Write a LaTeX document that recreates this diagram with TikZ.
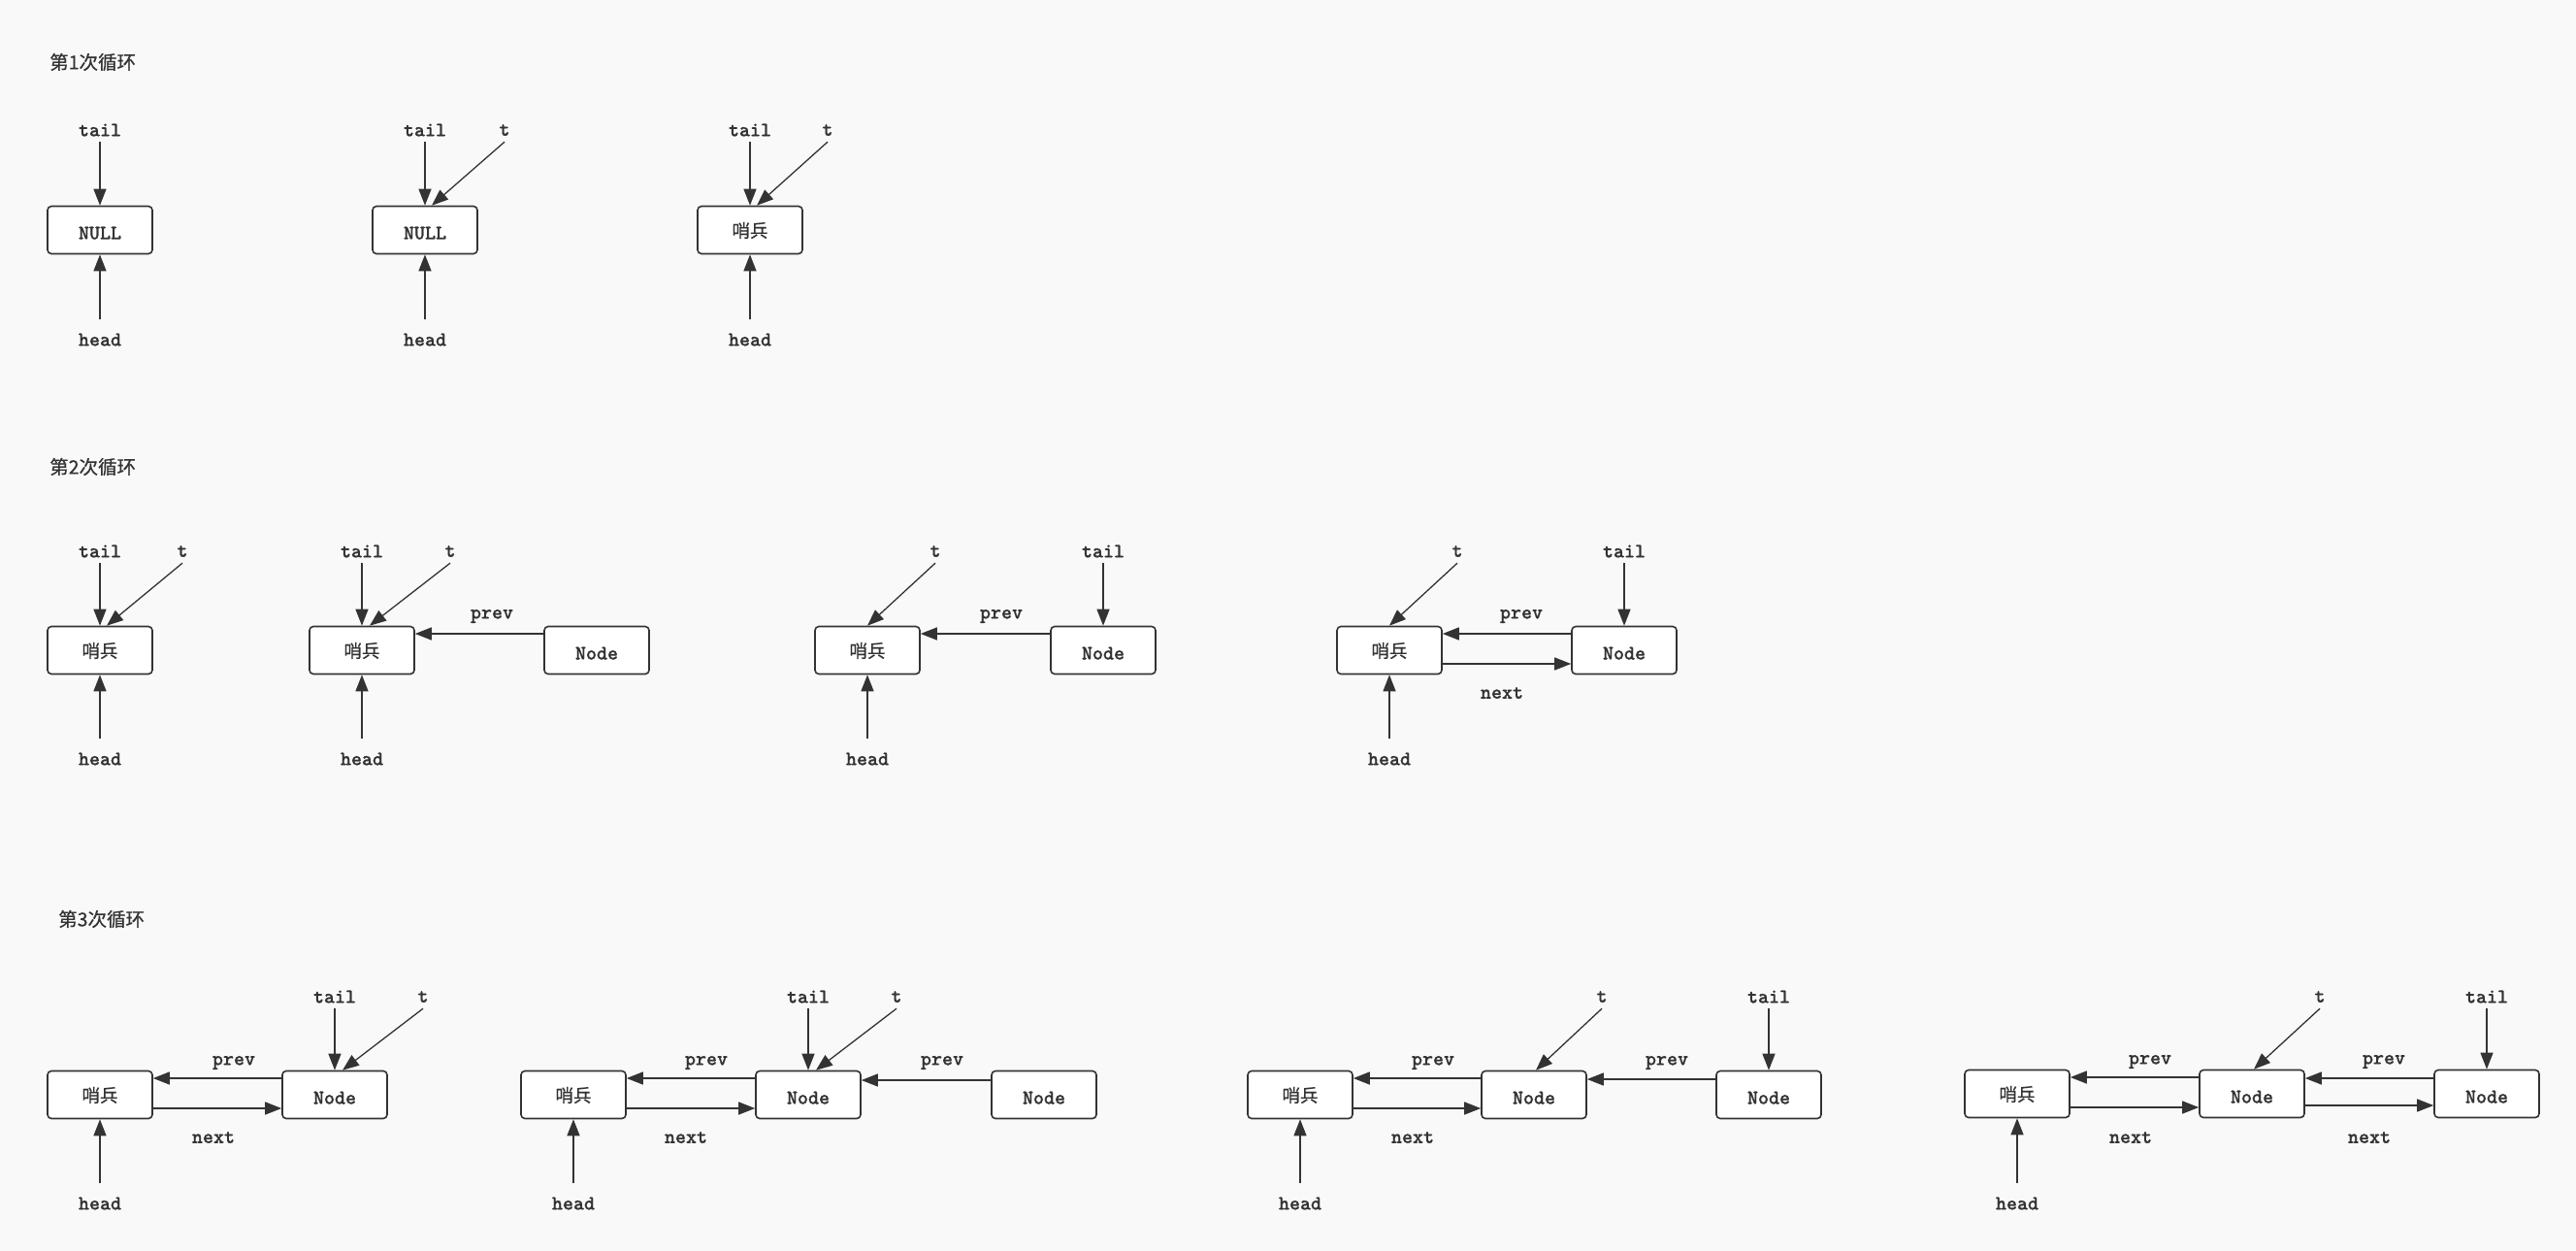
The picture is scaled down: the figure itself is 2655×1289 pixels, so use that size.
\documentclass[tikz,border=0pt]{standalone}
\usepackage{fontspec}
\newfontfamily\cjk{Noto Sans CJK SC}[FakeBold=0.6]
\newfontfamily\mono{lmmonolt10-bold.otf}[FakeBold=0.8]
\usetikzlibrary{arrows.meta}
\definecolor{ink}{HTML}{333333}
\definecolor{paper}{HTML}{F9F9F9}
\begin{document}
\begin{tikzpicture}[x=1pt,y=-1pt,
  cn/.style={font=\cjk\fontsize{18.5}{20}\selectfont},
  tt/.style={font=\mono\fontsize{21}{23}\selectfont},
  box/.style={draw=ink, line width=1.6pt, rounded corners=4pt, fill=white,
    minimum width=108pt, minimum height=49pt, inner sep=0pt, text=ink},
  sent/.style={box, cn, text height=17pt, text depth=2pt},
  nd/.style={box, tt, text height=19pt, text depth=0pt},
  lbl/.style={tt, text=ink, inner sep=0pt, minimum height=24pt},
  title/.style={cn, font=\cjk\fontsize{19.5}{21}\selectfont, text=ink, anchor=west, inner sep=0pt},
  ptr/.style={draw=ink, line width=1.3pt, -{Triangle[length=17pt,width=13pt]}},
  hptr/.style={ptr, shorten <=8.5pt},
]
% page
\path[fill=paper] (0,0) rectangle (2655,1289);

% ---------- titles ----------
\node[title] (title1) at (51,64) {第1次循环};
\node[title] (title2) at (51,481) {第2次循环};
\node[title] (title3) at (60,947) {第3次循环};

% ---------- loop 1 ----------
\node[nd] (a1) at (103,237) {NULL};
\node[lbl] (a1tail) at (103,134) {tail};
\node[lbl] (a1head) at (103,350) {head};
\draw[ptr] (a1tail) -- (a1);
\draw[hptr] (a1head) -- (a1);

\node[nd] (b1) at (438,237) {NULL};
\node[lbl] (b1tail) at (438,134) {tail};
\node[lbl] (b1t) at (520,134) {t};
\node[lbl] (b1head) at (438,350) {head};
\draw[ptr] (b1tail) -- (b1);
\draw[ptr] (b1t.south) -- ([xshift=7pt]b1.north);
\draw[hptr] (b1head) -- (b1);

\node[sent] (c1) at (773,237) {哨兵};
\node[lbl] (c1tail) at (773,134) {tail};
\node[lbl] (c1t) at (853,134) {t};
\node[lbl] (c1head) at (773,350) {head};
\draw[ptr] (c1tail) -- (c1);
\draw[ptr] (c1t.south) -- ([xshift=7pt]c1.north);
\draw[hptr] (c1head) -- (c1);

% ---------- loop 2 ----------
\node[sent] (a2) at (103,670) {哨兵};
\node[lbl] (a2tail) at (103,568) {tail};
\node[lbl] (a2t) at (188,568) {t};
\node[lbl] (a2head) at (103,782) {head};
\draw[ptr] (a2tail) -- (a2);
\draw[ptr] (a2t.south) -- ([xshift=7pt]a2.north);
\draw[hptr] (a2head) -- (a2);

\node[sent] (b2s) at (373,670) {哨兵};
\node[nd] (b2n) at (615,670) {Node};
\node[lbl] (b2tail) at (373,568) {tail};
\node[lbl] (b2t) at (464,568) {t};
\node[lbl] (b2head) at (373,782) {head};
\node[lbl] (b2prev) at (507,635) {prev};
\draw[ptr] (b2tail) -- (b2s);
\draw[ptr] (b2t.south) -- ([xshift=8pt]b2s.north);
\draw[hptr] (b2head) -- (b2s);
\draw[ptr] ([yshift=17pt]b2n.west) -- ([yshift=17pt]b2s.east);

\node[sent] (c2s) at (894,670) {哨兵};
\node[nd] (c2n) at (1137,670) {Node};
\node[lbl] (c2t) at (964,568) {t};
\node[lbl] (c2tail) at (1137,568) {tail};
\node[lbl] (c2head) at (894,782) {head};
\node[lbl] (c2prev) at (1032,635) {prev};
\draw[ptr] (c2t.south) -- (c2s.north);
\draw[ptr] (c2tail) -- (c2n);
\draw[hptr] (c2head) -- (c2s);
\draw[ptr] ([yshift=17pt]c2n.west) -- ([yshift=17pt]c2s.east);

\node[sent] (d2s) at (1432,670) {哨兵};
\node[nd] (d2n) at (1674,670) {Node};
\node[lbl] (d2t) at (1502,568) {t};
\node[lbl] (d2tail) at (1674,568) {tail};
\node[lbl] (d2head) at (1432,782) {head};
\node[lbl] (d2prev) at (1568,635) {prev};
\node[lbl] (d2next) at (1548,714) {next};
\draw[ptr] (d2t.south) -- (d2s.north);
\draw[ptr] (d2tail) -- (d2n);
\draw[hptr] (d2head) -- (d2s);
\draw[ptr] ([yshift=17pt]d2n.west) -- ([yshift=17pt]d2s.east);
\draw[ptr] ([yshift=-14pt]d2s.east) -- ([yshift=-14pt]d2n.west);

% ---------- loop 3 ----------
\node[sent] (a3s) at (103,1128) {哨兵};
\node[nd] (a3n) at (345,1128) {Node};
\node[lbl] (a3tail) at (345,1027) {tail};
\node[lbl] (a3t) at (436,1027) {t};
\node[lbl] (a3head) at (103,1240) {head};
\node[lbl] (a3prev) at (241,1095) {prev};
\node[lbl] (a3next) at (220,1172) {next};
\draw[ptr] (a3tail) -- (a3n);
\draw[ptr] (a3t.south) -- ([xshift=8pt]a3n.north);
\draw[hptr] (a3head) -- (a3s);
\draw[ptr] ([yshift=17pt]a3n.west) -- ([yshift=17pt]a3s.east);
\draw[ptr] ([yshift=-14pt]a3s.east) -- ([yshift=-14pt]a3n.west);

\node[sent] (b3s) at (591,1128) {哨兵};
\node[nd] (b3n) at (833,1128) {Node};
\node[nd] (b3m) at (1076,1128) {Node};
\node[lbl] (b3tail) at (833,1027) {tail};
\node[lbl] (b3t) at (924,1027) {t};
\node[lbl] (b3head) at (591,1240) {head};
\node[lbl] (b3prev) at (728,1095) {prev};
\node[lbl] (b3prevb) at (971,1095) {prev};
\node[lbl] (b3next) at (707,1172) {next};
\draw[ptr] (b3tail) -- (b3n);
\draw[ptr] (b3t.south) -- ([xshift=8pt]b3n.north);
\draw[hptr] (b3head) -- (b3s);
\draw[ptr] ([yshift=17pt]b3n.west) -- ([yshift=17pt]b3s.east);
\draw[ptr] ([yshift=-14pt]b3s.east) -- ([yshift=-14pt]b3n.west);
\draw[ptr] ([yshift=15pt]b3m.west) -- ([yshift=15pt]b3n.east);

\node[sent] (c3s) at (1340,1128) {哨兵};
\node[nd] (c3n) at (1581,1128) {Node};
\node[nd] (c3m) at (1823,1128) {Node};
\node[lbl] (c3t) at (1651,1027) {t};
\node[lbl] (c3tail) at (1823,1027) {tail};
\node[lbl] (c3head) at (1340,1240) {head};
\node[lbl] (c3prev) at (1477,1095) {prev};
\node[lbl] (c3prevb) at (1718,1095) {prev};
\node[lbl] (c3next) at (1456,1172) {next};
\draw[ptr] (c3t.south) -- ([xshift=2pt]c3n.north);
\draw[ptr] (c3tail) -- (c3m);
\draw[hptr] (c3head) -- (c3s);
\draw[ptr] ([yshift=17pt]c3n.west) -- ([yshift=17pt]c3s.east);
\draw[ptr] ([yshift=-14pt]c3s.east) -- ([yshift=-14pt]c3n.west);
\draw[ptr] ([yshift=16pt]c3m.west) -- ([yshift=16pt]c3n.east);

\node[sent] (d3s) at (2079,1127) {哨兵};
\node[nd] (d3n) at (2321,1127) {Node};
\node[nd] (d3m) at (2563,1127) {Node};
\node[lbl] (d3t) at (2391,1027) {t};
\node[lbl] (d3tail) at (2563,1027) {tail};
\node[lbl] (d3head) at (2079,1240) {head};
\node[lbl] (d3prev) at (2216,1094) {prev};
\node[lbl] (d3prevb) at (2457,1094) {prev};
\node[lbl] (d3next) at (2196,1172) {next};
\node[lbl] (d3nextb) at (2442,1172) {next};
\draw[ptr] (d3t.south) -- ([xshift=2pt]d3n.north);
\draw[ptr] (d3tail) -- (d3m);
\draw[hptr] (d3head) -- (d3s);
\draw[ptr] ([yshift=17pt]d3n.west) -- ([yshift=17pt]d3s.east);
\draw[ptr] ([yshift=-14pt]d3s.east) -- ([yshift=-14pt]d3n.west);
\draw[ptr] ([yshift=16pt]d3m.west) -- ([yshift=16pt]d3n.east);
\draw[ptr] ([yshift=-12pt]d3n.east) -- ([yshift=-12pt]d3m.west);
\end{tikzpicture}
\end{document}
